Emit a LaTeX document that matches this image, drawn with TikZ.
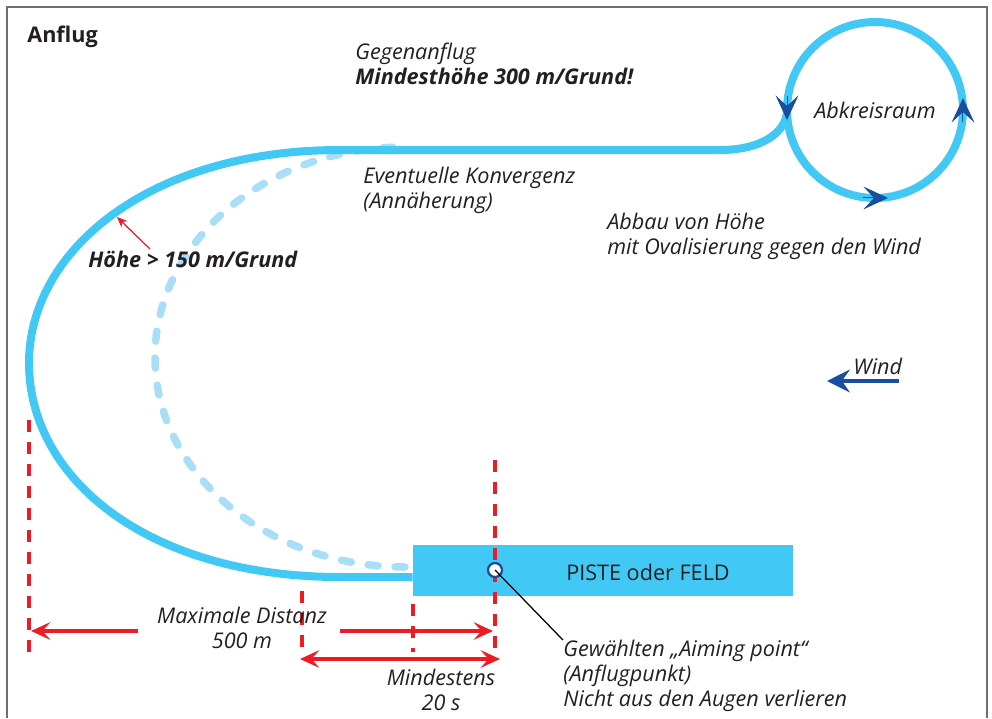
\documentclass[tikz,border=0pt]{standalone}
\usepackage{fontspec}
\setmainfont{Open Sans}
\usetikzlibrary{arrows.meta, positioning, calc}

\definecolor{skyblue}{RGB}{66,200,244}
\definecolor{paleblue}{RGB}{168,222,248}
\definecolor{navyarrow}{RGB}{24,78,160}
\definecolor{dimred}{RGB}{237,28,36}
\definecolor{framegray}{RGB}{110,110,112}
\definecolor{inkblack}{RGB}{35,31,32}

\begin{document}
\begin{tikzpicture}[
    x=0.02cm, y=-0.02cm,
    every node/.style={inner sep=0pt, text=inkblack},
    txt/.style={font=\fontsize{12.3}{14}\selectfont\itshape, align=left},
    txtbold/.style={font=\fontsize{12.3}{14}\selectfont\bfseries\itshape, align=left},
    frame/.style={draw=framegray, line width=0.04cm},
    track/.style={draw=skyblue, line width=0.16cm},
    converge/.style={draw=paleblue, line width=0.15cm, line cap=round,
        dash pattern=on 0.2cm off 0.34cm},
    holding/.style={circle, draw=skyblue, line width=0.16cm,
        minimum size=3.52cm, outer sep=0pt, font=\fontsize{12.3}{14}\selectfont\itshape},
    turn/.style={navyarrow, line width=0.02cm,
        -{Stealth[length=14pt, width=13pt, inset=6pt]}},
    runway/.style={rectangle, fill=skyblue, minimum width=7.6cm, minimum height=1.02cm},
    aimpoint/.style={circle, fill=white, draw=navyarrow, line width=0.045cm,
        minimum size=0.28cm},
    leader/.style={draw=black, line width=0.025cm},
    dimline/.style={draw=dimred, line width=0.075cm, dash pattern=on 0.24cm off 0.2cm},
    dimarrow/.style={draw=dimred, line width=0.075cm,
        -{Stealth[length=11pt, width=10pt, inset=4.5pt]}},
    dimboth/.style={draw=dimred, line width=0.075cm,
        {Stealth[length=11pt, width=10pt, inset=4.5pt]}-{Stealth[length=11pt, width=10pt, inset=4.5pt]}},
    hint/.style={draw=dimred, line width=0.025cm,
        -{Stealth[length=6pt, width=5pt, inset=2pt]}},
    windarrow/.style={draw=navyarrow, line width=0.09cm,
        -{Stealth[length=13pt, width=13pt, inset=4.5pt]}},
]

\useasboundingbox (0,0) rectangle (992,718);

% Frame
\draw[frame] (7,718) -- (7,7) -- (987,7) -- (987,718);
\node[font=\fontsize{12.3}{14}\selectfont\bfseries, anchor=base west] (title) at (27,42) {Anflug};

% Holding circle and runway
\node[holding] (abk) at (875,110) {Abkreisraum};
\node[runway] (piste) at (603,570.5) {};

% Circuit coordinates
\coordinate (lbot) at (340,577);
\coordinate (lleft) at (29,363);
\coordinate (ltop) at (340,150);
\coordinate (rbend) at (720,150);
\coordinate (dbot) at (405,567);

% Possible convergence (dashed)
\draw[converge] (dbot) arc[start angle=90, end angle=270, x radius=250, y radius=210];

% Circuit
\draw[track] (lbot -| piste.west) -- (lbot)
    .. controls (150,577) and (29,480) .. (lleft)
    .. controls (29,250) and (150,150) .. (ltop)
    -- (rbend) .. controls (762,150) and (787,132) .. (abk.west);
\node[runway] at (piste) {};
\node[font=\fontsize{12.3}{14}\selectfont] (pistetxt) at (648,572) {PISTE oder FELD};

% Direction on the circle
\draw[turn] (abk.west) ++(0,-14) -- ++(0,24);
\draw[turn] (abk.east) ++(0,12) -- ++(0,-24);
\draw[turn] (abk.south) ++(-12,0) -- ++(25,0);

% Dimensions
\draw[dimline] (29,420) -- (29,657);
\draw[dimline] (302,591) -- (302,652);
\draw[dimline] (413,604) -- (413,652);
\draw[dimline] (495,460) -- (495,652);
\draw[dimarrow] (138,631) -- (31,631);
\draw[dimarrow] (340,631) -- (493,631);
\draw[dimboth] (300,659) -- (500,659);
\node[txt, align=center, anchor=base] (maxdist) at (242,648) {Maximale Distanz\\500 m};
\node[txt, align=center, anchor=base] (mindest) at (441,710) {Mindestens\\20 s};

% Aiming point
\node[aimpoint] (aim) at (495,570) {};
\node[txt, anchor=base west] (aimtxt) at (563,706)
    {Gewählten „Aiming point“\\(Anflugpunkt)\\Nicht aus den Augen verlieren};
\draw[leader] (aim.center) -- (aimtxt.north west);

% Labels
\node[txt, anchor=base west] (gegen) at (355,84)
    {Gegenanflug\\\textbf{Mindesthöhe 300 m/Grund!}};
\node[txt, anchor=base west] (konv) at (363,208) {Eventuelle Konvergenz\\(Annäherung)};
\node[txt, anchor=base west] (abbau) at (607,254) {Abbau von Höhe\\mit Ovalisierung gegen den Wind};
\node[txtbold, anchor=base west] (hoehe) at (88,267) {Höhe > 150 m/Grund};
\coordinate (hintfrom) at (150,249);
\coordinate (hinttip) at (117,217);
\draw[hint] (hintfrom) -- (hinttip);

% Wind
\node[txt, anchor=base west] (wind) at (853,374) {Wind};
\coordinate (windfrom) at (899,381);
\coordinate (windto) at (827,381);
\draw[windarrow] (windfrom) -- (windto);

\end{tikzpicture}
\end{document}
